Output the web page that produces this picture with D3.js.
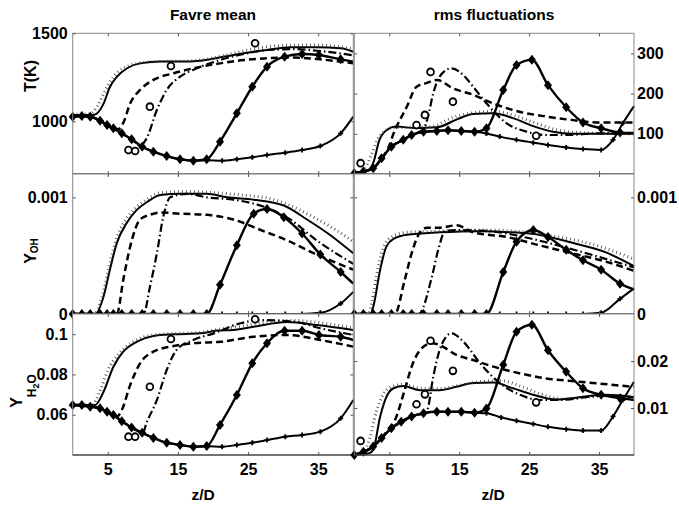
<!DOCTYPE html>
<html>
<head>
<meta charset="utf-8">
<script src="https://cdn.jsdelivr.net/npm/d3@7"></script>
<style>
  body { margin: 0; background: #fff; }
</style>
</head>
<body>
<div id="chart"></div>
<script>
// ---- data ----
const zDomain = [0, 40];
const zTicks = [5, 15, 25, 35];

// Temperature, Favre mean
const tMeanTicks = [1000, 1500];
const tMeanSolid = [[0,1035],[3,1035],[4.4,1100],[5.3,1195],[6.3,1253],[7.7,1300],[9.6,1329],[12.5,1339],[15.3,1339],[18.2,1344],[22.9,1377],[27.7,1405],[31,1420],[34.8,1420],[38.2,1415],[40,1395]];
const tMeanDotted = [[0,1040],[2.5,1042],[3.5,1085],[4.5,1165],[5.5,1235],[6.5,1282],[8,1315],[10,1333],[13,1340],[16,1342],[19,1352],[22,1378],[25,1405],[28,1425],[31,1432],[34,1433],[37,1428],[40,1410]];
const tMeanDashed = [[0,1030],[2.5,1026],[3.9,1003],[4.9,979],[5.8,960],[6.5,955],[7.2,990],[8.2,1102],[9.6,1178],[11.5,1235],[14.4,1273],[17.2,1301],[21,1329],[24.4,1348],[27.7,1358],[31.5,1362],[35.3,1352],[40,1329]];
const tMeanDashDot = [[0,1030],[2.5,1026],[3.9,1003],[4.9,979],[5.8,960],[7,931],[8.4,897],[9.6,862],[10.5,900],[12,1064],[13.4,1178],[15.3,1253],[17.7,1301],[21,1348],[24.8,1386],[27.7,1405],[31.5,1410],[35.5,1398],[40,1375]];
const tMeanDiamond = [[0,1026],[1.3,1030],[2.5,1026],[3.9,1003],[4.9,979],[5.8,960],[7,931],[8.4,897],[9.9,855],[11.5,827],[13.4,802],[15.3,784],[17.2,776],[19.1,784],[21,884],[23.4,1045],[25.6,1196],[27.7,1310],[30.2,1367],[32.7,1382],[35.1,1377],[38.2,1352],[40,1339]];
const tMeanPlus = [[0,1026],[1.3,1030],[2.5,1026],[3.9,1003],[4.9,979],[5.8,960],[7,931],[8.4,897],[9.9,855],[11.5,827],[13.4,802],[15.3,784],[17.2,776],[19.1,778],[21.3,776],[23.4,784],[25.6,795],[27.7,808],[30.3,821],[32.7,836],[35.3,859],[38.2,931],[40,1026]];
const tMeanExp = [[7.95,836],[8.9,831],[11,1083],[14,1314],[26,1443]];

// Temperature, rms
const tRmsTicks = [100, 200, 300];
const tRmsSolid = [[0,2],[2,10],[2.7,27],[3.6,85],[4.6,109],[6,118],[8.8,114],[11.8,116],[14.7,136],[17,149],[19.8,151],[22.7,139],[25.6,119],[28.4,105],[31.3,100],[35,100],[40,100]];
const tRmsDotted = [[0,2],[1.5,15],[2.5,50],[3.3,85],[4.2,105],[5.5,115],[8,116],[11,118],[14,140],[17,152],[20,156],[23,145],[26,126],[29,110],[32,103],[36,101],[40,100]];
const tRmsDashed = [[0,2],[2.7,14],[3.9,39],[4.8,62],[5.6,100],[7.5,167],[8.9,217],[10.3,226],[11.8,234],[14.1,213],[17,197],[19.8,176],[23.6,155],[27.4,143],[31.3,134],[35,128],[40,128]];
const tRmsDashDot = [[0,2],[2.7,14],[3.9,39],[5.3,68],[7,85],[8.2,97],[9.9,112],[10.5,140],[11.3,201],[12.2,242],[13.9,263],[15.6,246],[17,217],[18.9,176],[21.8,126],[24.7,105],[27.4,97],[30.3,97],[35,101],[40,101]];
const tRmsDiamond = [[0,2],[1.3,6],[2.7,14],[3.9,39],[5.3,68],[7,85],[8.2,97],[9.9,105],[11.8,107],[13.4,109],[15.3,107],[17.2,105],[18.9,114],[21.3,209],[23.2,271],[25.4,284],[27.7,221],[30.3,166],[32.7,128],[35.3,114],[38,103],[40,102]];
const tRmsPlus = [[0,2],[1.3,6],[2.7,14],[3.9,39],[5.3,68],[7,85],[8.2,97],[9.9,105],[11.8,107],[13.4,109],[15.3,107],[17.2,105],[18.9,101],[20.8,93],[23.2,85],[25.6,78],[27.7,72],[30.3,66],[32.7,62],[35.3,60],[37,85],[38.4,126],[40,169]];
const tRmsExp = [[0.9,27],[8.9,122],[10.1,147],[10.9,254],[14.1,180],[26,95]];

// OH mass fraction, Favre mean
const ohTicks = [0, 0.001];
const ohMeanSolid = [[0,0],[3.2,0],[4.4,0.00015],[5.3,0.00038],[6.3,0.00061],[7.7,0.00078],[9.1,0.00089],[10.6,0.00096],[12.5,0.00102],[15.3,0.00103],[19.1,0.00103],[22,0.001],[25.8,0.00098],[30.1,0.00093],[33.4,0.00081],[36.4,0.00069],[40,0.00052]];
const ohMeanDotted = [[0,0],[3,0],[4.2,0.00015],[5.1,0.00038],[6.1,0.00062],[7.5,0.0008],[9,0.00091],[10.5,0.00098],[12.5,0.00104],[16,0.00105],[20,0.00104],[24,0.00102],[28,0.00099],[31,0.00093],[34,0.00084],[37,0.00074],[40,0.00062]];
const ohMeanDashed = [[0,0],[6.3,0],[7.2,0.00029],[8.2,0.00058],[9.6,0.00081],[11,0.00085],[12.5,0.00087],[15.3,0.00086],[19.1,0.00085],[22.9,0.00081],[26.8,0.00072],[30.6,0.00063],[34.4,0.00052],[40,0.00038]];
const ohMeanDashDot = [[0,0],[10.1,0],[11,0.00023],[12,0.00052],[12.9,0.00083],[13.9,0.001],[16.3,0.00103],[19.1,0.001],[22.9,0.00098],[27.7,0.00091],[31,0.00081],[34.8,0.00063],[40,0.00043]];
const ohMeanDiamond = [[0,0],[1.3,0],[2.5,0],[3.9,0],[4.9,0],[5.8,0],[7,0],[8.4,0],[9.9,0],[11.5,0],[13.4,0],[15.3,0],[17.2,0],[19.1,0],[21,0.00025],[23.4,0.00059],[25.8,0.00086],[27.7,0.0009],[30.1,0.00083],[32.7,0.00069],[35.3,0.00051],[38.2,0.00036],[40,0.00026]];
const ohMeanPlus = [[0,0],[19.1,0],[21.3,0],[23.4,0],[25.6,0],[27.7,0],[30.3,0],[32.7,0],[35.3,0.00001],[38.2,0.00009],[40,0.00019]];

// OH mass fraction, rms
const ohRmsSolid = [[0,0],[2.3,0],[2.7,0.00006],[3.7,0.00038],[4.6,0.00058],[5.8,0.00065],[7.5,0.00068],[12.2,0.0007],[17.9,0.00071],[22.6,0.0007],[26.4,0.00068],[31.2,0.00061],[35.9,0.00053],[40,0.00041]];
const ohRmsDotted = [[0,0],[2,0],[2.5,0.0001],[3.4,0.0004],[4.4,0.0006],[5.6,0.00067],[7.5,0.0007],[12,0.00071],[18,0.00072],[23,0.00071],[27,0.00068],[31,0.00064],[35,0.00058],[40,0.00047]];
const ohRmsDashed = [[0,0],[5.8,0],[7.2,0.00029],[8.2,0.00052],[9.2,0.00068],[10.4,0.00074],[12.2,0.00074],[14.6,0.00076],[17,0.0007],[21.8,0.00066],[26.4,0.00059],[31.2,0.00052],[35.9,0.00045],[40,0.00037]];
const ohRmsDashDot = [[0,0],[9.2,0],[11.1,0.00032],[12,0.00055],[13,0.00071],[14.6,0.00072],[19.4,0.00071],[24.2,0.00066],[29,0.00059],[33.8,0.00051],[40,0.0004]];
const ohRmsDiamond = [[0,0],[1.3,0],[2.7,0],[3.9,0],[5.3,0],[7,0],[8.2,0],[9.9,0],[11.8,0],[13.4,0],[15.3,0],[17.2,0],[18.9,0],[21.3,0.00036],[23.2,0.00062],[25.6,0.00072],[27.7,0.00066],[30.3,0.00055],[32.7,0.00046],[35.3,0.00038],[38,0.00026],[40,0.00021]];
const ohRmsPlus = [[0,0],[18.9,0],[20.8,0],[23.2,0],[25.6,0],[27.7,0],[30.3,0],[32.7,0],[35.3,0.00001],[38,0.00013],[40,0.00022]];

// H2O mass fraction, Favre mean
const h2oMeanTicks = [0.06, 0.08, 0.1];
const h2oMeanSolid = [[0,0.0648],[3.2,0.0648],[4.4,0.0714],[5.8,0.0838],[7.2,0.0913],[9.1,0.0962],[11.5,0.0991],[14.4,0.0999],[18.2,0.1004],[20.6,0.1018],[22.9,0.1021],[25.8,0.1037],[30.6,0.106],[34.8,0.1045],[40,0.1021]];
const h2oMeanDotted = [[0,0.065],[2.8,0.065],[3.8,0.071],[5,0.082],[6.5,0.09],[8.5,0.096],[11,0.0993],[14,0.1002],[18,0.1008],[21,0.1025],[25,0.1045],[28,0.1062],[31,0.1068],[34,0.1062],[37,0.1048],[40,0.1032]];
const h2oMeanDashed = [[0,0.0648],[2.5,0.064],[3.9,0.0632],[5.3,0.0607],[6.3,0.059],[7,0.0623],[8.2,0.0748],[9.6,0.0855],[11.5,0.0913],[14.4,0.0941],[17.2,0.0955],[21,0.0962],[25.8,0.0987],[30.6,0.0996],[35.3,0.0971],[40,0.0938]];
const h2oMeanDashDot = [[0,0.0648],[2.5,0.064],[3.9,0.0632],[5.3,0.0607],[7.2,0.0565],[8.7,0.0533],[10,0.051],[10.5,0.0557],[12,0.0673],[13.4,0.0822],[14.8,0.0921],[17.2,0.0971],[20.1,0.1004],[23.9,0.1054],[26.8,0.107],[31.5,0.1062],[35.3,0.1029],[40,0.0996]];
const h2oMeanDiamond = [[0,0.0648],[1.3,0.0648],[2.5,0.064],[3.9,0.0632],[4.9,0.0615],[5.8,0.0598],[7,0.0568],[8.4,0.0536],[9.9,0.051],[11.5,0.0485],[13.4,0.0461],[15.3,0.045],[17.2,0.0441],[19.1,0.0445],[21,0.0549],[23.4,0.0698],[25.6,0.0855],[27.7,0.0955],[30.2,0.1017],[32.7,0.1017],[35.1,0.0996],[38.2,0.0987],[40,0.0971]];
const h2oMeanPlus = [[0,0.0648],[1.3,0.0648],[2.5,0.064],[3.9,0.0632],[4.9,0.0615],[5.8,0.0598],[7,0.0568],[8.4,0.0536],[9.9,0.051],[11.5,0.0485],[13.4,0.0461],[15.3,0.045],[17.2,0.0441],[19.1,0.0443],[21.3,0.0441],[23.4,0.045],[25.6,0.0461],[27.7,0.0474],[30.3,0.0491],[32.7,0.0499],[35.3,0.0516],[38.2,0.0582],[40,0.0673]];
const h2oMeanExp = [[7.95,0.0491],[8.9,0.0491],[11,0.0739],[14,0.0976],[26,0.1074]];

// H2O mass fraction, rms
const h2oRmsTicks = [0.01, 0.02];
const h2oRmsSolid = [[0,0],[2,0.0003],[2.7,0.0011],[3.7,0.0082],[4.6,0.0124],[5.6,0.0142],[7,0.0147],[9.4,0.0138],[12.2,0.0138],[14.6,0.0145],[17,0.0153],[19.9,0.0154],[22.7,0.0142],[25.6,0.0128],[28.9,0.0118],[32.2,0.0123],[36,0.0128],[40,0.0123]];
const h2oRmsDotted = [[0,0],[1.3,0.0008],[2.2,0.0035],[3.1,0.009],[4.1,0.0128],[5.3,0.0145],[7,0.015],[9.5,0.0142],[12,0.0141],[15,0.0148],[18,0.0156],[21,0.0158],[24,0.0145],[27,0.0128],[30,0.0119],[34,0.0124],[37,0.0127],[40,0.0122]];
const h2oRmsDashed = [[0,0],[2.7,0.0018],[3.9,0.0036],[4.9,0.0055],[5.8,0.0074],[7.2,0.0138],[8.2,0.0188],[9.4,0.0223],[11.1,0.0238],[12.2,0.0234],[14.6,0.0213],[17,0.0202],[19.9,0.0188],[23.6,0.0174],[27.4,0.0163],[32.2,0.0156],[40,0.0145]];
const h2oRmsDashDot = [[0,0],[2.7,0.0018],[3.9,0.0036],[5.3,0.0057],[7,0.0071],[8.2,0.0082],[9.4,0.0086],[10.4,0.0095],[11.3,0.0167],[12.2,0.0223],[13.9,0.0259],[15.6,0.0241],[18,0.0195],[20.8,0.0153],[23.7,0.0128],[26.6,0.0117],[30.3,0.0118],[35,0.0126],[40,0.0123]];
const h2oRmsDiamond = [[0,0],[1.3,0.0007],[2.7,0.0018],[3.9,0.0036],[5.3,0.0057],[6.7,0.0071],[8.2,0.0082],[9.9,0.0089],[11.8,0.0092],[13.4,0.0092],[15.3,0.0092],[17.2,0.009],[18.9,0.0099],[21.3,0.0192],[23.2,0.0262],[25.4,0.0277],[27.7,0.0223],[30.3,0.0177],[32.7,0.0142],[35.3,0.0128],[38,0.0121],[40,0.0117]];
const h2oRmsPlus = [[0,0],[1.3,0.0007],[2.7,0.0018],[3.9,0.0036],[5.3,0.0057],[6.7,0.0071],[8.2,0.0082],[9.9,0.0089],[11.8,0.0092],[13.4,0.0092],[15.3,0.0092],[17.2,0.009],[18.9,0.0089],[21,0.008],[23.2,0.0073],[25.6,0.0066],[27.7,0.006],[30.3,0.0055],[32.7,0.0052],[35.3,0.0052],[37,0.0082],[38.4,0.0117],[40,0.0156]];
const h2oRmsExp = [[0.9,0.003],[8.9,0.0108],[10.1,0.0129],[10.9,0.0243],[14.1,0.0179],[26,0.0112]];

// ---- layout ----
const width = 679, height = 506;
const colX = [[72.7, 353.3], [354.3, 634]];
const rowY = [[33.3, 174], [174, 314], [314, 455]];

const lineStyles = [
    { key: 'solid',   color: '#000', width: 2,   dash: null },
    { key: 'dotted',  color: '#444', width: 3,   dash: '0.8,3.2' },
    { key: 'dashed',  color: '#000', width: 2.5, dash: '7,4' },
    { key: 'dashdot', color: '#000', width: 2.2, dash: '8,3,1.5,3' },
    { key: 'plus',    color: '#000', width: 2,   dash: null },
    { key: 'diamond', color: '#000', width: 2.4, dash: null }
];

const panels = [
    { row: 0, col: 0, domain: [700, 1500], ticks: tMeanTicks,
      series: { solid: tMeanSolid, dotted: tMeanDotted, dashed: tMeanDashed, dashdot: tMeanDashDot, plus: tMeanPlus, diamond: tMeanDiamond }, exp: tMeanExp },
    { row: 0, col: 1, domain: [0, 350], ticks: tRmsTicks,
      series: { solid: tRmsSolid, dotted: tRmsDotted, dashed: tRmsDashed, dashdot: tRmsDashDot, plus: tRmsPlus, diamond: tRmsDiamond }, exp: tRmsExp },
    { row: 1, col: 0, domain: [0, 0.0012], ticks: ohTicks,
      series: { solid: ohMeanSolid, dotted: ohMeanDotted, dashed: ohMeanDashed, dashdot: ohMeanDashDot, plus: ohMeanPlus, diamond: ohMeanDiamond }, exp: [] },
    { row: 1, col: 1, domain: [0, 0.0012], ticks: ohTicks,
      series: { solid: ohRmsSolid, dotted: ohRmsDotted, dashed: ohRmsDashed, dashdot: ohRmsDashDot, plus: ohRmsPlus, diamond: ohRmsDiamond }, exp: [] },
    { row: 2, col: 0, domain: [0.04, 0.11], ticks: h2oMeanTicks,
      series: { solid: h2oMeanSolid, dotted: h2oMeanDotted, dashed: h2oMeanDashed, dashdot: h2oMeanDashDot, plus: h2oMeanPlus, diamond: h2oMeanDiamond }, exp: h2oMeanExp },
    { row: 2, col: 1, domain: [0, 0.03], ticks: h2oRmsTicks,
      series: { solid: h2oRmsSolid, dotted: h2oRmsDotted, dashed: h2oRmsDashed, dashdot: h2oRmsDashDot, plus: h2oRmsPlus, diamond: h2oRmsDiamond }, exp: h2oRmsExp }
];

const svg = d3.select('#chart')
    .append('svg')
    .attr('width', width)
    .attr('height', height)
    .style('font-family', '"Liberation Sans", Arial, Helvetica, sans-serif')
    .style('font-weight', 'bold');

const styleAxis = (sel, showLabels) => {
    sel.attr('font-family', null).attr('font-size', 16);
    sel.select('.domain').remove();
    sel.selectAll('.tick line').attr('stroke', '#555');
    sel.selectAll('.tick text').attr('fill', '#000');
    if (!showLabels) sel.selectAll('.tick text').remove();
};

// markers are not drawn on the last sample (z = 40)
const inside = d => d[0] < zDomain[1];

panels.forEach(p => {
    const [x0, x1] = colX[p.col];
    const [y0, y1] = rowY[p.row];
    const x = d3.scaleLinear().domain(zDomain).range([x0, x1]);
    const y = d3.scaleLinear().domain(p.domain).range([y1, y0]);

    const g = svg.append('g');

    g.append('rect')
        .attr('x', x0).attr('y', y0)
        .attr('width', x1 - x0).attr('height', y1 - y0)
        .attr('fill', '#fff');

    const line = d3.line()
        .x(d => x(d[0]))
        .y(d => y(d[1]))
        .curve(d3.curveMonotoneX);

    lineStyles.forEach(s => {
        g.append('path')
            .datum(p.series[s.key])
            .attr('d', line)
            .attr('fill', 'none')
            .attr('stroke', s.color)
            .attr('stroke-width', s.width)
            .attr('stroke-dasharray', s.dash)
            .attr('stroke-linejoin', 'round');
    });

    // small "+" markers
    g.selectAll('.plus')
        .data(p.series.plus.filter(inside))
        .join('path')
        .attr('transform', d => `translate(${x(d[0])},${y(d[1])})`)
        .attr('d', 'M-2.5,0H2.5M0,-2.5V2.5')
        .attr('stroke', '#000')
        .attr('stroke-width', 1.8);

    // filled diamonds
    g.selectAll('.diamond')
        .data(p.series.diamond.filter(inside))
        .join('path')
        .attr('transform', d => `translate(${x(d[0])},${y(d[1])})`)
        .attr('d', 'M0,-5L4,0L0,5L-4,0Z')
        .attr('fill', '#000');

    // experimental data: open circles
    g.selectAll('.exp')
        .data(p.exp)
        .join('circle')
        .attr('cx', d => x(d[0]))
        .attr('cy', d => y(d[1]))
        .attr('r', 3.4)
        .attr('fill', '#fff')
        .attr('stroke', '#000')
        .attr('stroke-width', 1.8);

    // box
    g.append('rect')
        .attr('x', x0).attr('y', y0)
        .attr('width', x1 - x0).attr('height', y1 - y0)
        .attr('fill', 'none')
        .attr('stroke', '#888');
    g.append('line')
        .attr('x1', x0).attr('x2', x1)
        .attr('y1', y1).attr('y2', y1)
        .attr('stroke', '#222');

    // y axes (ticks inside on both sides)
    const yFmt = d => String(d);
    const leftAx = g.append('g').attr('transform', `translate(${x0},0)`)
        .call(d3.axisLeft(y).tickValues(p.ticks).tickSize(-3).tickPadding(5).tickFormat(yFmt));
    styleAxis(leftAx, p.col === 0);
    const rightAx = g.append('g').attr('transform', `translate(${x1},0)`)
        .call(d3.axisRight(y).tickValues(p.ticks).tickSize(-3).tickPadding(3).tickFormat(yFmt));
    styleAxis(rightAx, p.col === 1);

    // x axes
    const bottomAx = g.append('g').attr('transform', `translate(0,${y1})`)
        .call(d3.axisBottom(x).tickValues(zTicks).tickSize(-3).tickPadding(9));
    styleAxis(bottomAx, p.row === 2);
    const topAx = g.append('g').attr('transform', `translate(0,${y0})`)
        .call(d3.axisTop(x).tickValues(zTicks).tickSize(-3));
    styleAxis(topAx, false);
});

// titles
svg.append('text').attr('x', 213).attr('y', 20).attr('text-anchor', 'middle')
    .attr('font-size', 15.5).text('Favre mean');
svg.append('text').attr('x', 494).attr('y', 20).attr('text-anchor', 'middle')
    .attr('font-size', 15.5).text('rms fluctuations');

// x labels
svg.append('text').attr('x', 203).attr('y', 500).attr('text-anchor', 'middle')
    .attr('font-size', 15.5).text('z/D');
svg.append('text').attr('x', 493).attr('y', 500).attr('text-anchor', 'middle')
    .attr('font-size', 15.5).text('z/D');

// y labels
svg.append('text').attr('transform', 'translate(35.5,76) rotate(-90)')
    .attr('text-anchor', 'middle').attr('font-size', 16).text('T(K)');

const yOH = svg.append('text').attr('transform', 'translate(35.5,251) rotate(-90)')
    .attr('text-anchor', 'middle').attr('font-size', 16);
yOH.append('tspan').text('Y');
yOH.append('tspan').attr('font-size', 10).attr('dy', 2).text('OH');

const yH2O = svg.append('text').attr('transform', 'translate(22,391) rotate(-90)')
    .attr('text-anchor', 'middle').attr('font-size', 16);
yH2O.append('tspan').text('Y');
yH2O.append('tspan').attr('font-size', 12).attr('dy', 14).text('H');
yH2O.append('tspan').attr('font-size', 9).attr('dy', 3).text('2');
yH2O.append('tspan').attr('font-size', 12).attr('dy', -3).text('O');
</script>
</body>
</html>
